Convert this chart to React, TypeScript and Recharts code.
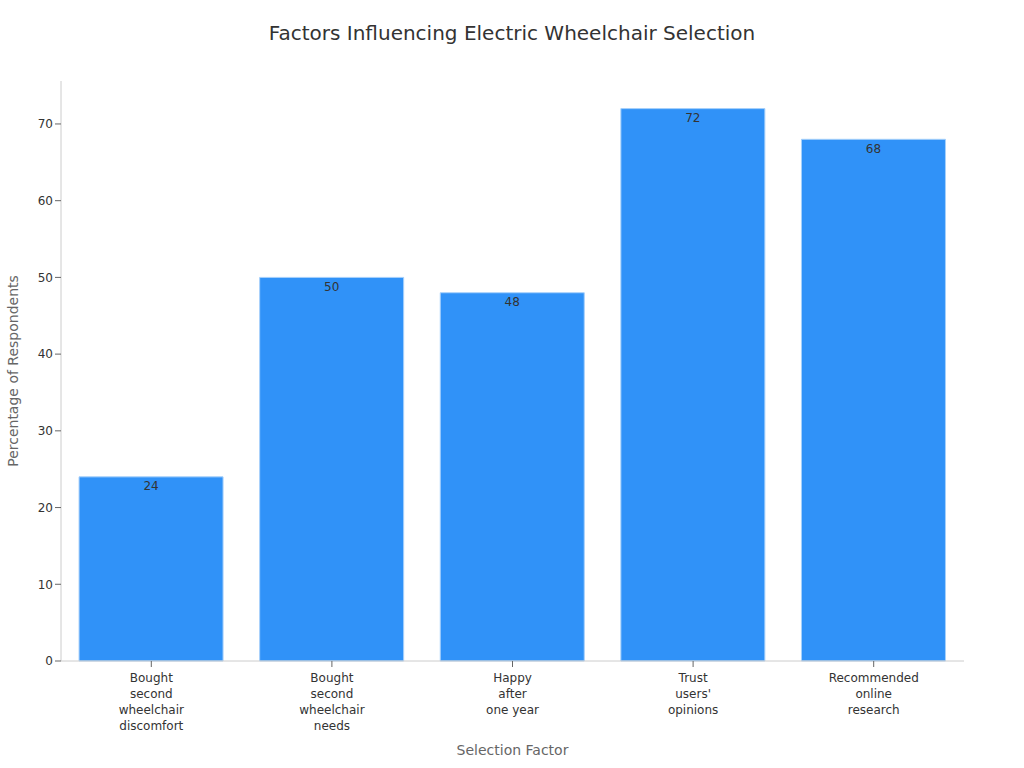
import React from 'react';
import { BarChart, Bar, XAxis, YAxis, LabelList, Label } from 'recharts';

const categories = [
  'Bought\nsecond\nwheelchair\ndiscomfort',
  'Bought\nsecond\nwheelchair\nneeds',
  'Happy\nafter\none year',
  "Trust\nusers'\nopinions",
  'Recommended\nonline\nresearch',
];
const percentages = [24, 50, 48, 72, 68];
const yTicks = [0, 10, 20, 30, 40, 50, 60, 70];

const data = categories.map((c, i) => ({ factor: c, value: percentages[i] }));

const FONT = '"DejaVu Sans", sans-serif';

const XTick = (props: any) => {
  const { x, y, payload } = props;
  const lines = String(payload.value).split('\n');
  return (
    <g transform={`translate(${x},${y})`}>
      <text textAnchor="middle" fill="#333" fontSize={12} fontFamily={FONT}>
        {lines.map((l, i) => (
          <tspan key={i} x={0} y={13 + i * 16}>
            {l}
          </tspan>
        ))}
      </text>
    </g>
  );
};

export default function App() {
  return (
    <div style={{ position: 'absolute', left: 0, top: 0, width: 1024, height: 768, background: '#fff', fontFamily: FONT }}>
      <div
        style={{
          position: 'absolute',
          top: 20,
          left: 0,
          width: 1024,
          textAlign: 'center',
          fontSize: 20,
          color: '#333',
          lineHeight: '26px',
        }}
      >
        Factors Influencing Electric Wheelchair Selection
      </div>
      <BarChart
        width={1024}
        height={768}
        data={data}
        margin={{ top: 81, right: 60, bottom: 7, left: 1 }}
        barCategoryGap="10%"
      >
        <XAxis
          dataKey="factor"
          height={100}
          interval={0}
          tick={<XTick />}
          tickLine={{ stroke: '#666' }}
          axisLine={{ stroke: '#ccc' }}
        >
          <Label
            content={(p: any) => {
              const vb = p.viewBox;
              return (
                <text x={vb.x + vb.width / 2} y={755} textAnchor="middle" fill="#666" fontSize={14} fontFamily={FONT}>
                  Selection Factor
                </text>
              );
            }}
          />
        </XAxis>
        <YAxis
          width={60}
          domain={[0, (max: number) => max * 1.05]}
          ticks={yTicks}
          tick={{ fill: '#333', fontSize: 12, fontFamily: FONT }}
          tickLine={{ stroke: '#666' }}
          axisLine={{ stroke: '#ccc' }}
        >
          <Label
            content={(p: any) => {
              const vb = p.viewBox;
              const cy = vb.y + vb.height / 2;
              return (
                <text
                  x={13}
                  y={cy}
                  transform={`rotate(-90, 13, ${cy})`}
                  textAnchor="middle"
                  dominantBaseline="central"
                  fill="#666"
                  fontSize={14}
                  fontFamily={FONT}
                >
                  Percentage of Respondents
                </text>
              );
            }}
          />
        </YAxis>
        <Bar dataKey="value" fill="#3092f8" stroke="#a6d0fb" strokeWidth={1} isAnimationActive={false}>
          <LabelList dataKey="value" position="insideTop" fill="#333" fontSize={12} fontFamily={FONT} />
        </Bar>
      </BarChart>
    </div>
  );
}
